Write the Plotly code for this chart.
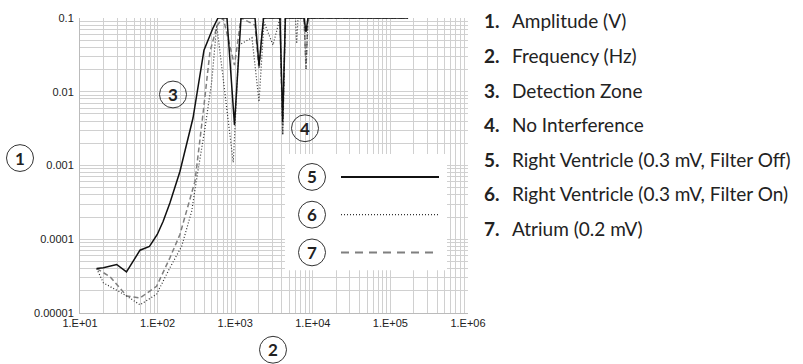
import plotly.graph_objects as go

# ---- data ----
freq_rv_off = [16.4, 20, 29.7, 39.7, 59.3, 78.6, 99, 118, 144, 194, 286, 396, 517, 600, 783, 979, 1188,
               1800, 2027, 2317, 3776, 4090, 4430, 7710, 8170, 8670, 169000]
amp_rv_off = [4.0e-5, 4.1e-5, 4.55e-5, 3.6e-5, 7.1e-5, 8.0e-5, 1.16e-4, 1.75e-4, 3.1e-4, 8.3e-4, 4.4e-3,
              0.0366, 0.073, 0.1, 0.1, 3.55e-3, 0.1, 0.1, 0.0225, 0.1, 0.1, 3.9e-3, 0.1, 0.1, 0.065, 0.1, 0.1]

freq_rv_on = [16.4, 20, 40, 59.3, 97, 144, 204, 275, 327, 408, 498, 578, 944, 1120, 1645, 2027, 2350,
              3070, 3776, 4090, 4430, 5980, 6200, 6450, 7710, 8170, 8670, 169000]
amp_rv_on = [4.0e-5, 2.57e-5, 1.7e-5, 1.29e-5, 1.8e-5, 4.1e-5, 8.0e-5, 2.4e-4, 7.8e-4, 3.2e-3, 0.0136,
             0.08, 1.1e-3, 0.043, 0.054, 7.3e-3, 0.088, 0.043, 0.1, 2.6e-3, 0.1, 0.1, 0.045, 0.1, 0.1,
             0.0204, 0.1, 0.1]

freq_atrium = [16.4, 24.4, 40, 59.3, 97, 144, 194, 249, 303, 388, 473, 588, 700, 979, 1188, 1800, 2027,
               2317, 3776, 4090, 4430, 7710, 8170, 8670, 169000]
amp_atrium = [4.0e-5, 3.1e-5, 1.7e-5, 1.6e-5, 2.3e-5, 5.6e-5, 1.16e-4, 2.95e-4, 6.1e-4, 5.4e-3, 0.035,
              0.08, 0.1, 0.023, 0.1, 0.08, 0.02, 0.1, 0.1, 2.6e-3, 0.1, 0.1, 0.0204, 0.1, 0.1]

x_tickvals = [10, 100, 1000, 10000, 100000, 1000000]
x_ticktext = ["1.E+01", "1.E+02", "1.E+03", "1.E+04", "1.E+05", "1.E+06"]
y_tickvals = [0.1, 0.01, 0.001, 0.0001, 0.00001]
y_ticktext = ["0.1", "0.01", "0.001", "0.0001", "0.00001"]

key_labels = ["Amplitude (V)", "Frequency (Hz)", "Detection Zone", "No Interference",
              "Right Ventricle (0.3 mV, Filter Off)", "Right Ventricle (0.3 mV, Filter On)",
              "Atrium (0.2 mV)"]

# ---- layout helpers (pixel -> paper) ----
W, H = 803, 364
L, R, T, B = 80, 468, 16, 313
def px(x):
    return (x - L) / (R - L)
def py(y):
    return (B - y) / (B - T)

x_minor = [m * 10 ** e for e in range(1, 6) for m in range(2, 10)]
y_minor = [m * 10 ** e for e in range(-5, -1) for m in range(2, 10)]

fig = go.Figure()
fig.add_trace(go.Scatter(x=freq_atrium, y=amp_atrium, mode="lines",
                         line=dict(color="#7f7f7f", width=1.5, dash="5px,3px")))
fig.add_trace(go.Scatter(x=freq_rv_on, y=amp_rv_on, mode="lines",
                         line=dict(color="#333333", width=1.2, dash="1px,2px")))
fig.add_trace(go.Scatter(x=freq_rv_off, y=amp_rv_off, mode="lines",
                         line=dict(color="#111111", width=1.5)))

grid = "#d0d0d0"
tickfont = dict(family="Liberation Sans, Arial", size=11, color="#222222")
fig.update_xaxes(type="log", range=[1, 6], tickmode="array", tickvals=x_tickvals, ticktext=x_ticktext,
                 showgrid=True, gridcolor=grid, gridwidth=1, zeroline=False,
                 showline=True, linecolor="#bbbbbb", ticks="", tickfont=tickfont,
                 minor=dict(tickmode="array", tickvals=x_minor, showgrid=True, gridcolor=grid, ticks=""))
fig.update_yaxes(type="log", range=[-5, -1], tickmode="array", tickvals=y_tickvals, ticktext=y_ticktext,
                 showgrid=True, gridcolor=grid, gridwidth=1, zeroline=False,
                 showline=True, linecolor="#bbbbbb", ticks="", tickfont=tickfont, ticklabelstandoff=3,
                 minor=dict(tickmode="array", tickvals=y_minor, showgrid=True, gridcolor=grid, ticks=""))

shapes = []
annotations = []
circ_font = dict(family="Lato, Open Sans, sans-serif", size=17, color="#222222")

def circle(cx, cy, label, r=13.5):
    shapes.append(dict(type="circle", xref="paper", yref="paper",
                       x0=px(cx - r), x1=px(cx + r), y0=py(cy + r), y1=py(cy - r),
                       line=dict(color="#333333", width=1), fillcolor="rgba(255,255,255,0)"))
    annotations.append(dict(text="<b>%s</b>" % label, xref="paper", yref="paper", x=px(cx), y=py(cy),
                            showarrow=False, font=circ_font, xanchor="center", yanchor="middle"))

# legend box
shapes.append(dict(type="rect", xref="paper", yref="paper", x0=px(285), x1=px(447),
                   y0=py(270), y1=py(153), fillcolor="white", line=dict(width=0), layer="above"))

circle(20, 157, "1")
circle(273, 350, "2")
circle(173, 93, "3")
circle(305, 127, "4")
for lab, cy, st in [("5", 176, dict(color="#111111", width=2, dash="solid")),
                    ("6", 214, dict(color="#333333", width=1.3, dash="1px,2px")),
                    ("7", 252, dict(color="#7f7f7f", width=2, dash="8px,6px"))]:
    circle(312, cy, lab, r=13.5)
    shapes.append(dict(type="line", xref="paper", yref="paper", x0=px(341), x1=px(439),
                       y0=py(cy), y1=py(cy), line=st, layer="above"))

key_font = dict(family="Lato, Open Sans, sans-serif", size=19, color="#222222")
for i, lab in enumerate(key_labels):
    yy = 19 + i * 34.8
    annotations.append(dict(text="<b>%d.</b>" % (i + 1), xref="paper", yref="paper", x=px(482), y=py(yy),
                            showarrow=False, font=key_font, xanchor="left", yanchor="middle"))
    annotations.append(dict(text=lab, xref="paper", yref="paper", x=px(510), y=py(yy),
                            showarrow=False, font=key_font, xanchor="left", yanchor="middle"))

fig.update_layout(width=W, height=H, margin=dict(l=L, r=W - R, t=T, b=H - B),
                  paper_bgcolor="white", plot_bgcolor="white", showlegend=False,
                  shapes=shapes, annotations=annotations)

fig.write_html("out.html", config={"displayModeBar": False, "staticPlot": True},
               post_script="document.body.style.margin='0';document.body.style.overflow='hidden';")
